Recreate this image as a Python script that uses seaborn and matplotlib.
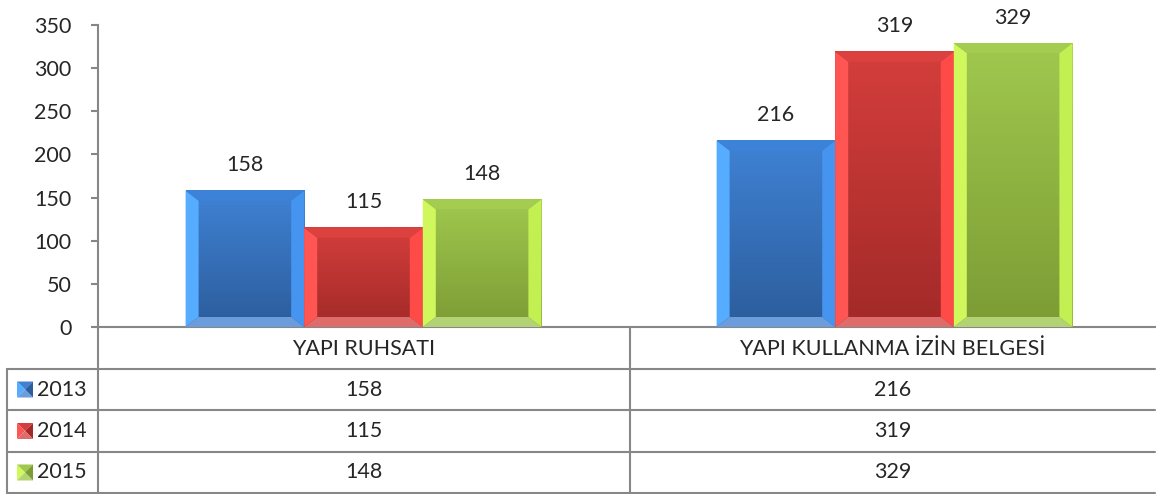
import numpy as np
import pandas as pd
import seaborn as sns
import matplotlib.pyplot as plt
from matplotlib.patches import Polygon
from matplotlib.colors import LinearSegmentedColormap
from matplotlib.lines import Line2D

# data
categories = ["YAPI RUHSATI", "YAPI KULLANMA İZİN BELGESİ"]
years = ["2013", "2014", "2015"]
values_2013 = [158, 216]
values_2014 = [115, 319]
values_2015 = [148, 329]
y_ticks = [0, 50, 100, 150, 200, 250, 300, 350]

series = [values_2013, values_2014, values_2015]
df = pd.DataFrame({
    "kategori": [c for vals in series for c in categories],
    "yil": [y for y, vals in zip(years, series) for _ in vals],
    "deger": [v for vals in series for v in vals],
})

# colours: base, face top, face bottom, left, right, top, bottom bevel
styles = {
    "2013": dict(base="#3a78c8", ftop="#3f82d4", fbot="#2c5d9c",
                 left="#56acff", right="#4595f0", top="#3b82d8", bot="#6b9cdb"),
    "2014": dict(base="#c83836", ftop="#d43e3c", fbot="#a22a28",
                 left="#ff5653", right="#ff4b48", top="#da413f", bot="#de6c6a"),
    "2015": dict(base="#92b842", ftop="#a0c84e", fbot="#7c9c34",
                 left="#d0f85c", right="#c2ef52", top="#a4cc50", bot="#b2d274"),
}

W, H = 1156, 494
sns.set_style("white")
plt.rcParams["font.family"] = ["Lato", "DejaVu Sans"]
fig = plt.figure(figsize=(W / 100, H / 100), dpi=100)

ax_l, ax_r, ax_t, ax_b = 98, 1160, 25, 327
tab_r = 1155
ax = fig.add_axes([ax_l / W, 1 - ax_b / H, (ax_r - ax_l) / W, (ax_b - ax_t) / H])

sns.barplot(data=df, x="kategori", y="deger", hue="yil", order=categories,
            hue_order=years, palette=[styles[y]["base"] for y in years],
            width=0.67, gap=0, saturation=1, legend=False, ax=ax, zorder=2)

ax.set_xlim(-0.5, 1.5)
ax.set_ylim(0, 350)
ax.set_yticks(y_ticks)
ax.set_xticks([])
ax.set_xlabel("")
ax.set_ylabel("")
for s in ["top", "right"]:
    ax.spines[s].set_visible(False)
for s in ["left", "bottom"]:
    ax.spines[s].set_color("#878787")
    ax.spines[s].set_linewidth(1.5)
ax.tick_params(axis="y", length=5, width=1.5, color="#878787", labelsize=15.5, pad=14, left=True)

# pixel size of one data unit
px_x = (ax_r - ax_l) / 2.0
px_y = (ax_b - ax_t) / 350.0
dx = 13 / px_x
dy = 10 / px_y

for year, cont in zip(years, ax.containers):
    st = styles[year]
    cmap = LinearSegmentedColormap.from_list("g" + year, [st["ftop"], st["fbot"]])
    grad = np.linspace(0, 1, 64).reshape(-1, 1)
    for bar in cont:
        x0, y0 = bar.get_x(), bar.get_y()
        x1, y1 = x0 + bar.get_width(), y0 + bar.get_height()
        ax.imshow(grad, cmap=cmap, aspect="auto", extent=(x0, x1, y0, y1),
                  origin="upper", zorder=3)
        polys = [
            ([(x0, y0), (x0 + dx, y0 + dy), (x0 + dx, y1 - dy), (x0, y1)], st["left"]),
            ([(x1, y0), (x1 - dx, y0 + dy), (x1 - dx, y1 - dy), (x1, y1)], st["right"]),
            ([(x0, y1), (x0 + dx, y1 - dy), (x1 - dx, y1 - dy), (x1, y1)], st["top"]),
            ([(x0, y0), (x0 + dx, y0 + dy), (x1 - dx, y0 + dy), (x1, y0)], st["bot"]),
        ]
        for pts, col in polys:
            ax.add_patch(Polygon(pts, closed=True, facecolor=col, edgecolor="none", zorder=4))
    ax.bar_label(cont, labels=[str(int(b.get_height())) for b in cont],
                 padding=11, fontsize=15.5, zorder=5)

ax.set_xlim(-0.5, 1.5)
ax.set_ylim(0, 350)

# data table under the chart
def fx(px):
    return px / W

def fy(py):
    return 1 - py / H

line_kw = dict(color="#878787", linewidth=1.5, transform=fig.transFigure)
rows = [327, 369, 410, 452, 493]
col_left, col_mid = 7, 630
for r in rows[1:]:
    fig.add_artist(Line2D([fx(col_left if r != rows[1] else col_left), fx(tab_r)], [fy(r), fy(r)], **line_kw))
fig.add_artist(Line2D([fx(ax_l), fx(ax_l)], [fy(ax_b), fy(rows[-1])], **line_kw))
fig.add_artist(Line2D([fx(col_mid), fx(col_mid)], [fy(ax_b), fy(rows[-1])], **line_kw))
fig.add_artist(Line2D([fx(col_left), fx(col_left)], [fy(rows[1]), fy(rows[-1])], **line_kw))

col_centers = [(ax_l + col_mid) / 2, (col_mid + tab_r) / 2]
for cx, cat in zip(col_centers, categories):
    fig.text(fx(cx), fy((rows[0] + rows[1]) / 2 + 1), cat, ha="center", va="center", fontsize=15.5)

for i, (year, vals) in enumerate(zip(years, series)):
    st = styles[year]
    cy = (rows[i + 1] + rows[i + 2]) / 2
    fig.text(fx(37), fy(cy), year, ha="left", va="center", fontsize=15.5)
    for cx, v in zip(col_centers, vals):
        fig.text(fx(cx), fy(cy), str(v), ha="center", va="center", fontsize=15.5)
    # legend key with bevel look
    kx0, kx1 = 17, 33
    ky0, ky1 = cy - 8, cy + 8
    mx, my = (kx0 + kx1) / 2, (ky0 + ky1) / 2
    tris = [
        ([(kx0, ky0), (kx1, ky0), (mx, my)], st["ftop"]),
        ([(kx0, ky0), (kx0, ky1), (mx, my)], st["left"]),
        ([(kx1, ky0), (kx1, ky1), (mx, my)], st["fbot"]),
        ([(kx0, ky1), (kx1, ky1), (mx, my)], st["bot"]),
    ]
    for pts, col in tris:
        fig.add_artist(Polygon([(fx(a), fy(b)) for a, b in pts], closed=True,
                               facecolor=col, edgecolor="none", transform=fig.transFigure))

fig.savefig("out.png", dpi=100)
